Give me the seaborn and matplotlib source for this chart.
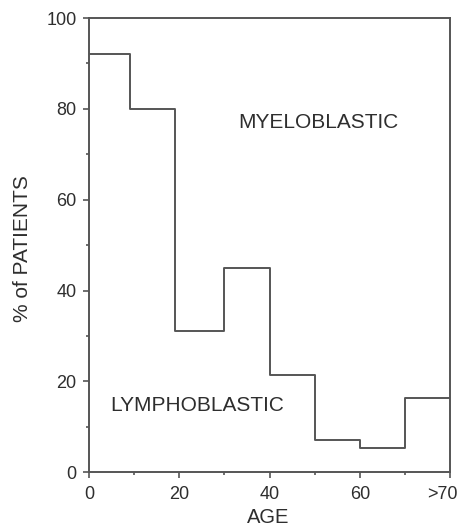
import numpy as np
import pandas as pd
import seaborn as sns
import matplotlib.pyplot as plt
import matplotlib.transforms as mtransforms
from matplotlib.ticker import MultipleLocator

# data: age group edges and % myeloblastic (rest is lymphoblastic)
age_edges = [0, 9, 19, 30, 40, 50, 60, 70, 80]
pct_myelo = [92, 80, 31, 45, 21.5, 7, 5.3, 16.3]
x_ticks = [0, 20, 40, 60, 80]
x_tick_labels = ["0", "20", "40", "60", ">70"]
y_ticks = [0, 20, 40, 60, 80, 100]

sns.set_style("ticks")
plt.rcParams['font.family'] = ['Liberation Sans', 'DejaVu Sans']

df = pd.DataFrame({"age": age_edges, "pct": pct_myelo + [pct_myelo[-1]]})

fig = plt.figure(figsize=(4.62, 5.3), dpi=100)
ax = fig.add_axes([0.193, 0.109, 0.781, 0.857])

line_col = "#555555"
text_col = "#2e2e2e"
sns.lineplot(data=df, x="age", y="pct", drawstyle="steps-post",
             color=line_col, linewidth=1.4, ax=ax)

ax.set_xlim(0, 80)
ax.set_ylim(0, 100)
ax.set_xticks(x_ticks)
ax.set_xticklabels(x_tick_labels)
ax.set_yticks(y_ticks)
ax.xaxis.set_minor_locator(MultipleLocator(10))
ax.yaxis.set_minor_locator(MultipleLocator(10))
ax.tick_params(which="major", length=4, width=1.2, color=line_col,
               labelsize=13, labelcolor=text_col, pad=5)
ax.tick_params(axis="x", which="major", pad=6)
ax.tick_params(which="minor", length=2.5, width=1.2, color=line_col)

# ">70" sits with "70" centred on the last tick
lab = ax.get_xticklabels()[-1]
lab.set_transform(lab.get_transform() + mtransforms.ScaledTranslation(-8 / 100, 0, fig.dpi_scale_trans))

for s in ax.spines.values():
    s.set_visible(True)
    s.set_color(line_col)
    s.set_linewidth(1.4)

ax.set_xlabel("AGE", fontsize=14.5, color=text_col)
ax.xaxis.set_label_coords(0.496, -0.078)
ax.set_ylabel("% of PATIENTS", fontsize=15, color=text_col)
ax.yaxis.set_label_coords(-0.159, 0.493)

ax.text(33, 76.9, "MYELOBLASTIC", fontsize=15, color=text_col, va="center")
ax.text(4.7, 14.8, "LYMPHOBLASTIC", fontsize=15, color=text_col, va="center")

fig.savefig("out.png", dpi=100)
